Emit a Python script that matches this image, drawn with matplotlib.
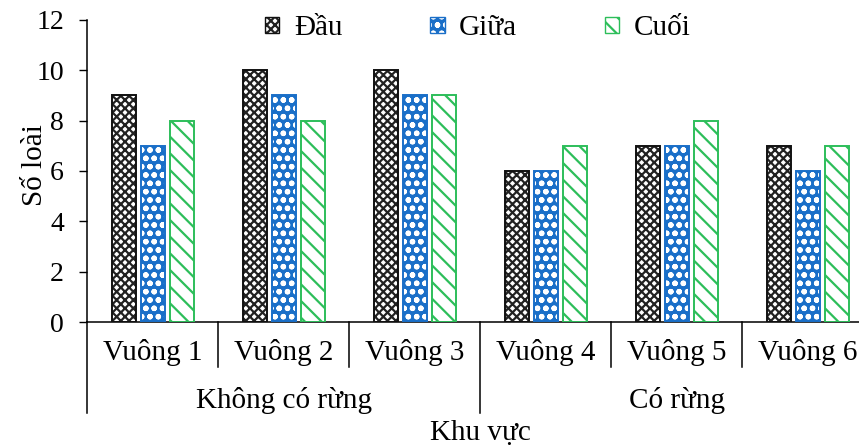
import matplotlib
matplotlib.use("Agg")
import matplotlib.pyplot as plt
from matplotlib.patches import Patch
from matplotlib.legend_handler import HandlerTuple
import numpy as np

# Data
plots = ["Vuông 1", "Vuông 2", "Vuông 3", "Vuông 4", "Vuông 5", "Vuông 6"]
zones = ["Không có rừng", "Có rừng"]
zone_sizes = [3, 3]
series_names = ["Đầu", "Giữa", "Cuối"]
dau = [9, 10, 10, 6, 7, 7]
giua = [7, 9, 9, 6, 7, 6]
cuoi = [8, 8, 9, 7, 8, 7]
yticks = [0, 2, 4, 6, 8, 10, 12]

plt.rcParams["font.family"] = ["Liberation Serif", "DejaVu Serif"]
plt.rcParams["hatch.linewidth"] = 1.6

FS = 21

fig = plt.figure(figsize=(8.59, 4.46), dpi=100)
ax = fig.add_axes([0.1013, 0.2777, 0.9156, 0.678])

x = np.arange(len(plots))
offset = 0.2214
bw = 0.183

# (fill colour, hatch colour, hatch, outline colour)
styles = [
    ("white", "#222222", "xxxx", "#111111"),
    ("#1A6FC8", "white", "oo", "#1A6FC8"),
    ("white", "#2DBE5A", "\\\\", "#2DBE5A"),
]
handles = []
for i, (vals, (fc, hc, hatch, oc)) in enumerate(zip([dau, giua, cuoi], styles)):
    pos = x + (i - 1) * offset
    ax.bar(pos, vals, width=bw, facecolor=fc, edgecolor=hc, hatch=hatch,
           linewidth=0, zorder=2)
    ax.bar(pos, vals, width=bw, fill=False, edgecolor=oc, linewidth=1.4,
           zorder=3)
    h1 = Patch(facecolor=fc, edgecolor=hc, hatch=hatch, linewidth=0)
    h2 = Patch(fill=False, edgecolor=oc, linewidth=1.0)
    handles.append((h1, h2))

ax.set_xlim(-0.5, len(plots) - 0.5)
ax.set_ylim(0, 12)
ax.set_yticks(yticks)
ax.tick_params(axis="y", direction="out", length=5.5, width=1.0, pad=11,
               labelsize=20)
ax.set_xticks([])
for s in ["top", "right"]:
    ax.spines[s].set_visible(False)
for s in ["left", "bottom"]:
    ax.spines[s].set_linewidth(1.1)
    ax.spines[s].set_color("black")

ax.set_ylabel("Số loài", fontsize=FS)
ax.yaxis.set_label_coords(-0.049, 0.52)

trans = ax.get_xaxis_transform()
# Plot names under each group
for xi, name in zip(x, plots):
    ax.text(xi, -0.099, name, transform=trans, ha="center", va="center",
            fontsize=FS)

# Separators between plots and between zones
bounds = np.cumsum([0] + zone_sizes) - 0.5
for b in np.arange(len(plots) + 1) - 0.5:
    low = -0.30 if b in bounds else -0.149
    ax.plot([b, b], [0, low], transform=trans, color="black", lw=1.1,
            clip_on=False)

# Zone names
start = 0
for zname, size in zip(zones, zone_sizes):
    centre = start + (size - 1) / 2
    ax.text(centre, -0.258, zname, transform=trans, ha="center", va="center",
            fontsize=FS)
    start += size

ax.text(0.5, -0.366, "Khu vực", transform=ax.transAxes, ha="center",
        va="center", fontsize=FS)

ax.legend(handles, series_names, handler_map={tuple: HandlerTuple(ndivide=1)},
          loc="center", bbox_to_anchor=(0.497, 0.972), ncol=3,
          frameon=False, fontsize=FS, handlelength=0.5, handleheight=0.5,
          handletextpad=0.5, columnspacing=3.0, borderpad=0.1)

fig.savefig("out.png", dpi=100)
